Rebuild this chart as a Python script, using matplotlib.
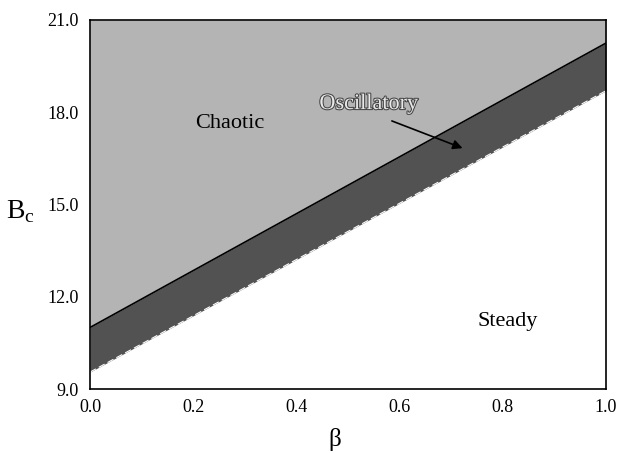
import numpy as np
import matplotlib.pyplot as plt
import matplotlib.patheffects as pe

# boundary lines B_c(beta)
beta = [0.0, 1.0]
upper_bc = [11.0, 20.25]   # chaotic / oscillatory boundary
lower_bc = [9.55, 18.7]    # oscillatory / steady boundary

x_ticks = [0.0, 0.2, 0.4, 0.6, 0.8, 1.0]
y_ticks = [9.0, 12.0, 15.0, 18.0, 21.0]

plt.rcParams['font.family'] = ['Liberation Serif', 'DejaVu Serif']

fig = plt.figure(figsize=(6.17, 4.53), dpi=100)
ax = fig.add_axes([90 / 617, 1 - 389 / 453, 516 / 617, 369 / 453])

ax.fill_between(beta, upper_bc, [21.0, 21.0], color='#b4b4b4', lw=0)
ax.fill_between(beta, lower_bc, upper_bc, color='#525252', lw=0)
ax.plot(beta, upper_bc, color='black', lw=1.2)
ax.plot(beta, lower_bc, color='white', lw=0.8, ls=(0, (6, 3)))

ax.set_xlim(0, 1)
ax.set_ylim(9, 21)
ax.set_xticks(x_ticks)
ax.set_xticklabels([f"{v:.1f}" for v in x_ticks])
ax.set_yticks(y_ticks)
ax.set_yticklabels([f"{v:.1f}" for v in y_ticks])
ax.tick_params(length=0, labelsize=13)
ax.tick_params(axis='y', pad=8)
ax.tick_params(axis='x', pad=7)
for s in ax.spines.values():
    s.set_linewidth(1.2)

ax.text(0.27, 17.65, "Chaotic", fontsize=16, ha='center', va='center')
ax.text(0.81, 11.2, "Steady", fontsize=16, ha='center', va='center')
ax.text(0.54, 18.25, "Oscillatory", fontsize=16, ha='center', va='center',
        color='#e8e8e8',
        path_effects=[pe.withStroke(linewidth=1.5, foreground='#444444')])
ax.annotate("", xy=(0.727, 16.8), xytext=(0.58, 17.75),
            arrowprops=dict(arrowstyle='-|>', color='black', lw=1.2,
                            mutation_scale=14))

ax.set_xlabel("β", fontsize=18, va='top')
ax.xaxis.set_label_coords(0.475, -0.105)
ax.set_ylabel("B$_\\mathregular{c}$", fontsize=20, rotation=0,
              va='center', ha='center')
ax.yaxis.set_label_coords(-0.135, 0.48)

fig.savefig("out.png", dpi=100)
